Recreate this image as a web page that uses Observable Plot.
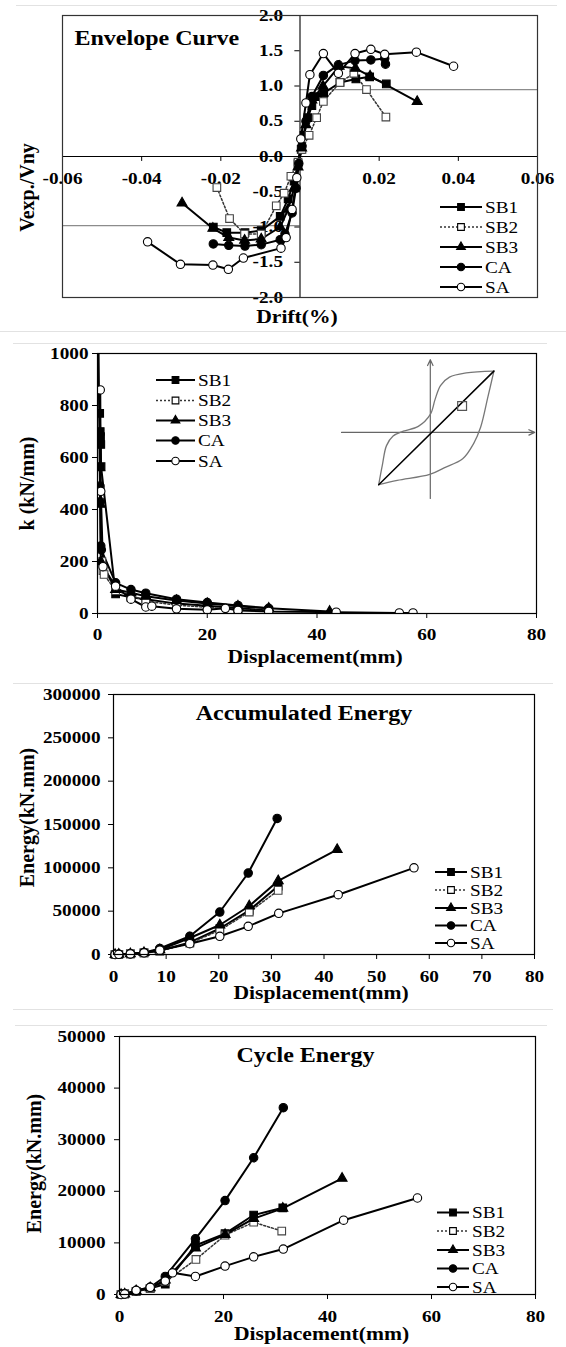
<!DOCTYPE html>
<html><head><meta charset="utf-8">
<script src="https://cdn.jsdelivr.net/npm/d3@7"></script>
<script src="https://cdn.jsdelivr.net/npm/@observablehq/plot@0.6"></script>
<style>
html,body{margin:0;padding:0;background:#fff;}
#page{position:relative;width:566px;height:1347px;overflow:hidden;background:#fff;}
.panel{position:absolute;left:0;}
.sep{position:absolute;height:0;border-top:1px solid #e2e2e2;}
</style></head><body><div id="page"></div>
<script>
// ---------- Series names ----------
const seriesNames = ["SB1", "SB2", "SB3", "CA", "SA"];

// ---------- Panel 1: Envelope curve (drift, Vexp/Vny) ----------
const envSB1 = [[-0.0219,-1.00],[-0.0185,-1.08],[-0.0139,-1.08],[-0.0098,-1.05],[-0.005,-0.85],[-0.003,-0.6],[-0.0015,-0.35],[-0.0005,-0.1],[0.0003,0.1],[0.001,0.3],[0.002,0.55],[0.003,0.72],[0.0045,0.85],[0.006,0.9],[0.0101,1.05],[0.0141,1.1],[0.0176,1.13],[0.0218,1.03]];
const envSB2 = [[-0.021,-0.44],[-0.0178,-0.88],[-0.014,-1.1],[-0.0098,-1.1],[-0.006,-0.7],[-0.004,-0.52],[-0.0023,-0.28],[-0.0005,-0.08],[0.0005,0.1],[0.0023,0.3],[0.0042,0.55],[0.0059,0.78],[0.0101,1.05],[0.0136,1.18],[0.0168,0.95],[0.0217,0.56]];
const envSB3 = [[-0.0298,-0.66],[-0.022,-1.02],[-0.018,-1.15],[-0.014,-1.19],[-0.0098,-1.17],[-0.005,-1.0],[-0.003,-0.75],[-0.0015,-0.45],[-0.0005,-0.15],[0.0004,0.12],[0.0015,0.45],[0.003,0.8],[0.0058,1.0],[0.0099,1.28],[0.014,1.25],[0.0177,1.14],[0.0296,0.78]];
const envCA = [[-0.0219,-1.24],[-0.018,-1.26],[-0.0139,-1.27],[-0.0098,-1.25],[-0.005,-1.18],[-0.0038,-1.1],[-0.002,-0.8],[-0.001,-0.45],[-0.0003,-0.1],[0.0005,0.15],[0.0015,0.5],[0.003,0.85],[0.0059,1.15],[0.0097,1.30],[0.0139,1.36],[0.0179,1.37],[0.0214,1.39],[0.0216,1.31]];
const envSA = [[-0.0385,-1.21],[-0.0302,-1.53],[-0.022,-1.54],[-0.0181,-1.6],[-0.0143,-1.44],[-0.0048,-1.3],[-0.0035,-1.15],[-0.002,-0.75],[-0.0008,-0.3],[0.0002,0.25],[0.0015,0.76],[0.0025,1.16],[0.0059,1.46],[0.0097,1.18],[0.0139,1.46],[0.0179,1.52],[0.0214,1.45],[0.0294,1.48],[0.0388,1.28]];
const envRefLines = [{y: 0.95, from: 0, to: 0.06}, {y: -0.98, from: -0.06, to: 0}];
const envXTicks = [-0.06, -0.04, -0.02, 0.02, 0.04, 0.06];
const envYTicks = [2, 1.5, 1, 0.5, 0, -0.5, -1, -1.5, -2];

// ---------- Panel 2: stiffness k (displacement mm, kN/mm) ----------
const kSB1 = [[0.4,770],[0.5,700],[0.55,680],[0.6,650],[0.65,565],[3.3,75],[6.1,62],[8.8,55],[14.4,38],[20,30],[25.6,20],[31.2,12]];
const kSB2 = [[0.5,480],[0.8,200],[1.0,165],[1.2,150],[3.3,88],[6.1,70],[8.8,48],[14.4,32],[20,24],[25.6,14],[31.2,9]];
const kSB3 = [[0.15,1100],[0.4,560],[0.5,420],[0.6,200],[3.3,92],[6.1,80],[8.8,66],[14.4,50],[20,38],[25.6,28],[31.2,20],[42.3,8]];
const kCA = [[0.4,490],[0.5,430],[0.6,260],[0.7,245],[3.3,118],[6.1,92],[8.8,78],[14.4,55],[20,42],[25.6,31],[31.2,20]];
const kSA = [[0.5,860],[0.6,470],[1.0,180],[3.3,105],[6.1,55],[8.8,25],[9.9,28],[14.4,18],[20,14],[23.3,20],[25.6,12],[31.2,8],[43.5,5],[55,2],[57.5,2]];
const kXTicks = [0, 20, 40, 60, 80];
const kYTicks = [0, 200, 400, 600, 800, 1000];
// schematic inset (hysteresis loop, secant stiffness)
const insetUpper = [[-0.86,-0.87],[-0.8,-0.55],[-0.73,-0.22],[-0.62,-0.06],[-0.45,0.02],[-0.2,0.1],[0,0.3],[0.08,0.55],[0.17,0.78],[0.32,0.92],[0.6,0.99],[1.06,1.02]];
const insetLower = [[1.06,1.02],[0.96,0.59],[0.84,0.09],[0.72,-0.19],[0.54,-0.44],[0.23,-0.59],[-0.01,-0.70],[-0.55,-0.8],[-0.86,-0.87]];
const insetSecant = [[-0.86,-0.87],[1.06,1.02]];
const insetAxes = [{x1:-1.48,y1:0,x2:1.74,y2:0},{x1:0,y1:-1.1,x2:0,y2:1.21}];
const insetAngle = [[0.53,0.44]];

// ---------- Panel 3: accumulated energy ----------
const aeSB1 = [[0.3,0],[1,150],[3.2,700],[5.8,1800],[8.8,4300],[14.5,14000],[20.2,30000],[25.8,51000],[31.3,79000]];
const aeSB2 = [[0.3,0],[1,150],[3.2,700],[5.8,1800],[8.8,4000],[14.5,13000],[20.2,28000],[25.8,49000],[31.3,74000]];
const aeSB3 = [[0.3,0],[1,150],[3.2,800],[5.8,2100],[8.8,5500],[14.5,19000],[20.2,34000],[25.8,56000],[31.3,85000],[42.5,121000]];
const aeCA = [[0.3,0],[1,150],[3.2,800],[5.8,2200],[8.8,7000],[14.5,21000],[20.2,49000],[25.6,94000],[31.1,157000]];
const aeSA = [[0.3,0],[1,150],[3.2,700],[5.8,1900],[8.8,5000],[14.5,12500],[20.2,21000],[25.6,32500],[31.4,47500],[42.7,69000],[57.1,100000]];
const aeXTicks = [0, 10, 20, 30, 40, 50, 60, 70, 80];
const aeYTicks = [0, 50000, 100000, 150000, 200000, 250000, 300000];

// ---------- Panel 4: cycle energy ----------
const ceSB1 = [[0.3,0],[1,100],[3.2,600],[5.9,1200],[8.8,2000],[14.6,9500],[20.3,11800],[25.8,15400],[31.4,16800]];
const ceSB2 = [[0.3,0],[1,100],[3.2,600],[5.9,1200],[8.8,2500],[14.7,6800],[20.3,11500],[25.8,14000],[31.2,12300]];
const ceSB3 = [[0.3,0],[1,100],[3.2,700],[5.9,1300],[8.8,2800],[14.6,9000],[20.3,11600],[25.8,14700],[31.4,16700],[42.8,22500]];
const ceCA = [[0.3,0],[1,100],[3.2,700],[5.9,1400],[8.8,3500],[14.6,10800],[20.3,18200],[25.8,26500],[31.5,36200]];
const ceSA = [[0.3,0],[1,100],[3.2,800],[5.9,1400],[8.8,2600],[10.2,4200],[14.6,3500],[20.3,5500],[25.8,7300],[31.5,8800],[43.1,14400],[57.3,18700]];
const ceXTicks = [0, 20, 40, 60, 80];
const ceYTicks = [0, 10000, 20000, 30000, 40000, 50000];

// ---------- styling ----------
const seriesStyle = [
  {symbol: "square", fill: "black", dash: null, width: 2, r: 4.3},
  {symbol: "square", fill: "white", dash: "2,2", width: 1.5, r: 4.3},
  {symbol: "triangle", fill: "black", dash: null, width: 2, r: 3.7},
  {symbol: "circle", fill: "black", dash: null, width: 2, r: 4.2},
  {symbol: "circle", fill: "white", dash: null, width: 2, r: 4.2}
];
const FONT = "'Liberation Serif', 'Times New Roman', serif";
const baseStyle = {fontFamily: FONT, fontSize: "16px", fontWeight: "bold", background: "transparent", color: "black"};

function seriesMarks(datasets, clip = false) {
  const lines = datasets.map((d, i) => Plot.line(d, {x: p => p[0], y: p => p[1], stroke: i === 1 ? "#333" : "black",
    strokeWidth: seriesStyle[i].width, strokeDasharray: seriesStyle[i].dash || undefined, clip}));
  const dots = datasets.map((d, i) => Plot.dot(d, {x: p => p[0], y: p => p[1], symbol: seriesStyle[i].symbol, r: seriesStyle[i].r,
    fill: seriesStyle[i].fill, stroke: i === 1 ? "#444" : "black", strokeWidth: 1.1, clip}));
  return [...lines, ...dots];
}

function addLegend(svg, x0, x1, tx, ys) {
  const g = d3.select(svg).append("g").attr("text-anchor", "start");
  const syms = {square: d3.symbolSquare, triangle: d3.symbolTriangle, circle: d3.symbolCircle};
  seriesNames.forEach((name, i) => {
    const s = seriesStyle[i], y = ys[i];
    const rr = s.r * 0.88;
    g.append("line").attr("x1", x0).attr("x2", x1).attr("y1", y).attr("y2", y)
      .attr("stroke", i === 1 ? "#333" : "black").attr("stroke-width", s.width).attr("stroke-dasharray", s.dash);
    g.append("path").attr("d", d3.symbol(syms[s.symbol], Math.PI * rr * rr)())
      .attr("transform", `translate(${(x0 + x1) / 2},${y})`)
      .attr("fill", s.fill).attr("stroke", "black").attr("stroke-width", 1.1);
    g.append("text").attr("x", tx).attr("y", y).attr("dy", "0.35em").attr("text-anchor", "start")
      .attr("font-family", FONT).attr("font-size", 16).attr("font-weight", "normal").text(name);
  });
}

function axisTitles(xLabel, xdx, xdy, yLabel, ydx, ydy) {
  return [
    Plot.text([xLabel], {text: d => d, frameAnchor: "bottom", dx: xdx, dy: xdy, textAnchor: "middle", lineAnchor: "middle", fontSize: 18, fontWeight: "bold"}),
    Plot.text([yLabel], {text: d => d, frameAnchor: "left", dx: ydx, dy: ydy, rotate: -90, textAnchor: "middle", lineAnchor: "middle", fontSize: 20, fontWeight: "bold"})
  ];
}

const page = document.getElementById("page");
function place(el, top, left = 0) {
  const div = document.createElement("div");
  div.className = "panel";
  div.style.top = top + "px";
  div.style.left = left + "px";
  div.appendChild(el);
  page.appendChild(div);
  return el;
}
function sep(top, left, right) {
  const d = document.createElement("div");
  d.className = "sep";
  d.style.top = top + "px"; d.style.left = left + "px"; d.style.width = (right - left) + "px";
  page.appendChild(d);
}

// ---------- Panel 1 ----------
const p1 = Plot.plot({
  width: 566, height: 330, marginLeft: 62, marginRight: 29, marginTop: 15, marginBottom: 33,
  x: {domain: [-0.06, 0.06], axis: null},
  y: {domain: [-2, 2], axis: null},
  style: baseStyle,
  marks: [
    Plot.ruleY(envRefLines, {y: "y", x1: "from", x2: "to", stroke: "#8c8c8c", strokeWidth: 1.2}),
    Plot.ruleY([0], {stroke: "black", strokeWidth: 1.1}),
    Plot.ruleX([0], {stroke: "black", strokeWidth: 1.1}),
    Plot.ruleX(envXTicks, {x: d => d, y1: 0, y2: -0.07, stroke: "black"}),
    Plot.ruleY(envYTicks, {y: d => d, x1: 0, x2: -0.0013, stroke: "black"}),
    Plot.text(envXTicks, {x: d => d, y: 0, dy: 22, text: d => d.toFixed(2), lineAnchor: "middle"}),
    Plot.text(envYTicks, {x: 0, y: d => d, dx: -17, text: d => d.toFixed(1), textAnchor: "end", lineAnchor: "middle"}),
    ...seriesMarks([envSB1, envSB2, envSB3, envCA, envSA]),
    Plot.frame({stroke: "#333", strokeWidth: 1.2}),
    Plot.text(["Envelope Curve"], {text: d => d, frameAnchor: "top-left", dx: 12, dy: 23, textAnchor: "start", lineAnchor: "middle", fontSize: 20, fontWeight: "bold"}),
    ...axisTitles("Drift(%)", -3, 20, "Vexp./Vny", -35, 31)
  ]
});
place(p1, 0);
addLegend(p1, 440, 482, 485, [207, 227, 247, 267, 287]);

// ---------- Panel 2 ----------
const p2 = Plot.plot({
  width: 566, height: 340, marginLeft: 97, marginRight: 30, marginTop: 23, marginBottom: 57,
  x: {domain: [0, 80], ticks: kXTicks, tickSize: 5, tickPadding: 10, label: null, tickFormat: d => String(d)},
  y: {domain: [0, 1000], ticks: kYTicks, tickSize: 5, tickPadding: 4, label: null, tickFormat: d => String(d)},
  style: baseStyle,
  marks: [
    ...seriesMarks([kSB1, kSB2, kSB3, kCA, kSA], true),
    Plot.frame({stroke: "black", strokeWidth: 1.2}),
    ...axisTitles("Displacement(mm)", -2, 44, "k (kN/mm)", -70, 0)
  ]
});
place(p2, 330);
addLegend(p2, 156, 195, 198, [50, 70.5, 90.5, 110.5, 131]);

// inset schematic
const inset = Plot.plot({
  width: 195, height: 140, margin: 0,
  x: {domain: [-1.48, 1.77], axis: null},
  y: {domain: [-1.1, 1.23], axis: null},
  style: {background: "transparent", overflow: "visible"},
  marks: [
    Plot.arrow(insetAxes, {x1: "x1", y1: "y1", x2: "x2", y2: "y2", stroke: "#666", strokeWidth: 1.2, headLength: 8, headAngle: 50}),
    Plot.line(insetUpper, {x: p => p[0], y: p => p[1], stroke: "#777", strokeWidth: 1.3, curve: "catmull-rom"}),
    Plot.line(insetLower, {x: p => p[0], y: p => p[1], stroke: "#777", strokeWidth: 1.3, curve: "catmull-rom"}),
    Plot.line(insetSecant, {x: p => p[0], y: p => p[1], stroke: "black", strokeWidth: 1.5}),
    Plot.dot(insetAngle, {x: p => p[0], y: p => p[1], symbol: "square", r: 5, fill: "none", stroke: "#555", strokeWidth: 1.2})
  ]
});
place(inset, 358, 341);

// ---------- Panel 3 ----------
const p3 = Plot.plot({
  width: 566, height: 340, marginLeft: 113, marginRight: 32, marginTop: 24, marginBottom: 56,
  x: {domain: [0, 80], ticks: aeXTicks, tickSize: 5, tickPadding: 11, label: null, tickFormat: d => String(d)},
  y: {domain: [0, 300000], ticks: aeYTicks, tickSize: 5, tickPadding: 8, label: null, tickFormat: d => String(d)},
  style: baseStyle,
  marks: [
    ...seriesMarks([aeSB1, aeSB2, aeSB3, aeCA, aeSA]),
    Plot.frame({stroke: "black", strokeWidth: 1.2}),
    Plot.text(["Accumulated Energy"], {text: d => d, frameAnchor: "top", dx: -20, dy: 19, textAnchor: "middle", lineAnchor: "middle", fontSize: 20, fontWeight: "bold"}),
    ...axisTitles("Displacement(mm)", -3, 39, "Energy(kN.mm)", -86, -7)
  ]
});
place(p3, 670);
addLegend(p3, 435, 467, 470, [202, 220, 238, 255.5, 273]);

// ---------- Panel 4 ----------
const p4 = Plot.plot({
  width: 566, height: 337, marginLeft: 119, marginRight: 31, marginTop: 26, marginBottom: 53,
  x: {domain: [0, 80], ticks: ceXTicks, tickSize: 5, tickPadding: 11, label: null, tickFormat: d => String(d)},
  y: {domain: [0, 50000], ticks: ceYTicks, tickSize: 5, tickPadding: 9, label: null, tickFormat: d => String(d)},
  style: baseStyle,
  marks: [
    ...seriesMarks([ceSB1, ceSB2, ceSB3, ceCA, ceSA]),
    Plot.frame({stroke: "black", strokeWidth: 1.2}),
    Plot.text(["Cycle Energy"], {text: d => d, frameAnchor: "top", dx: -22, dy: 19, textAnchor: "middle", lineAnchor: "middle", fontSize: 20, fontWeight: "bold"}),
    ...axisTitles("Displacement(mm)", -6, 40, "Energy(kN.mm)", -85, -2)
  ]
});
place(p4, 1010);
addLegend(p4, 437, 469, 472, [202.5, 221, 240, 258.5, 277]);

// faint image borders
sep(5, 16, 557); sep(331, 0, 566); sep(343, 13, 547); sep(683, 13, 553); sep(1009, 13, 553); sep(1025, 15, 547);

// horizontal stretch of horizontal text to match the wide glyphs of the reference
document.querySelectorAll("#page svg text").forEach(t => {
  const tr = (t.getAttribute("transform") || "") + (t.parentNode.getAttribute ? (t.parentNode.getAttribute("transform") || "") : "");
  if (tr.includes("rotate")) return;
  const L = t.getComputedTextLength();
  if (L > 0) { t.setAttribute("textLength", (L * 1.2).toFixed(1)); t.setAttribute("lengthAdjust", "spacingAndGlyphs"); }
});
</script></body></html>
